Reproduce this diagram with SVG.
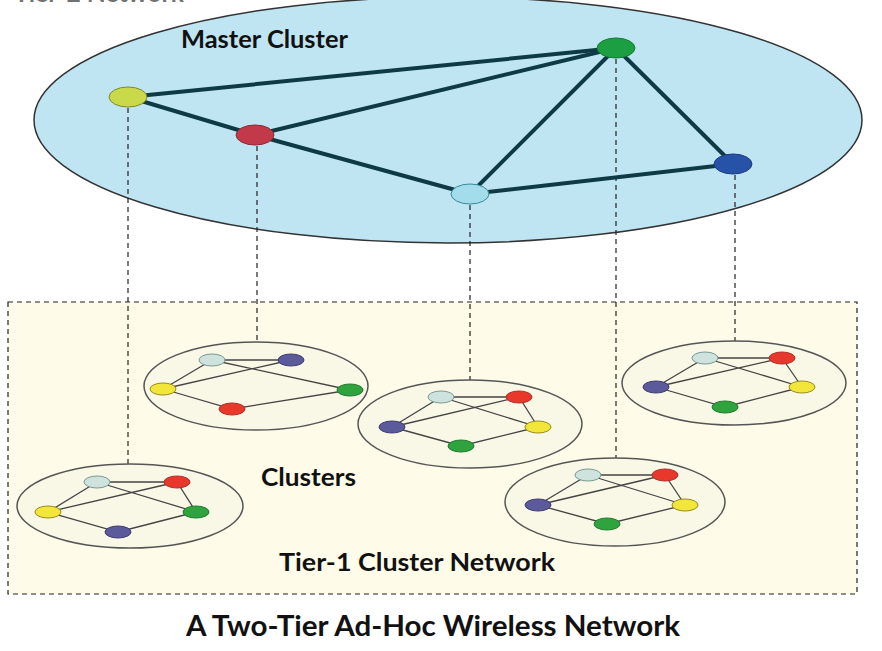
<svg xmlns="http://www.w3.org/2000/svg" width="882" height="651" viewBox="0 0 882 651">
<style>
.lbl{font-family:Lato,"Open Sans","Liberation Sans",sans-serif;font-weight:bold;fill:#111;}
.m{stroke:#0e3a44;stroke-width:4;stroke-linecap:round;fill:none;}
.d{stroke:#222;stroke-width:1.2;stroke-dasharray:5,4;fill:none;}
.cl{fill:#f9f7e6;stroke:#555;stroke-width:1.5;}
.e{stroke:#444;stroke-width:1.3;fill:none;}
.n{stroke-width:1;}
.lt{fill:#cfe3de;stroke:#7a9a94;}
.rd{fill:#e8382c;stroke:#b0302a;}
.ye{fill:#f2e63a;stroke:#9a8c20;}
.gr{fill:#2fa33d;stroke:#217a2d;}
.pu{fill:#5b5a9a;stroke:#3e3d70;}
</style>
<rect width="882" height="651" fill="#ffffff"/>
<text class="lbl" x="14" y="2" font-size="24" textLength="170" lengthAdjust="spacingAndGlyphs" fill-opacity="0.6">Tier-2 Network</text>
<g id="tier1-area">
<rect x="8" y="302" width="849" height="292" fill="#fefbe9" stroke="#222" stroke-width="1.2" stroke-dasharray="5,4"/>
</g>
<g id="master-cluster">
<ellipse cx="448" cy="120" rx="414" ry="123" fill="#bfe4f2" stroke="#333" stroke-width="1.5"/>
</g>
<g id="connectors">
<line class="d" x1="128" y1="108" x2="128" y2="465"/>
<line class="d" x1="257" y1="146" x2="257" y2="341"/>
<line class="d" x1="470" y1="205" x2="470" y2="381"/>
<line class="d" x1="616" y1="59" x2="616" y2="459"/>
<line class="d" x1="735" y1="175" x2="735" y2="342"/>
<line class="m" x1="128" y1="97" x2="616" y2="48"/>
<line class="m" x1="128" y1="97" x2="255" y2="135"/>
<line class="m" x1="255" y1="135" x2="616" y2="48"/>
<line class="m" x1="255" y1="135" x2="470" y2="194"/>
<line class="m" x1="470" y1="194" x2="616" y2="48"/>
<line class="m" x1="470" y1="194" x2="733" y2="164"/>
<line class="m" x1="616" y1="48" x2="733" y2="164"/>
</g>
<g id="m-yellow"><ellipse cx="128" cy="97" rx="19" ry="10" fill="#c9d94a" stroke="#7f8a2a"/></g>
<g id="m-red"><ellipse cx="255" cy="135" rx="19" ry="10" fill="#c23a4a" stroke="#8a2a35"/></g>
<g id="m-green"><ellipse cx="616" cy="48" rx="19" ry="10" fill="#1c9e42" stroke="#157a32"/></g>
<g id="m-cyan"><ellipse cx="470" cy="194" rx="19" ry="10" fill="#a3dcea" stroke="#3a8a9a"/></g>
<g id="m-blue"><ellipse cx="733" cy="164" rx="19" ry="10" fill="#2652a8" stroke="#1c3c7a"/></g>
<text class="lbl" x="181" y="48" font-size="24" textLength="167" lengthAdjust="spacingAndGlyphs">Master Cluster</text>

<g id="cluster-1">
<ellipse class="cl" cx="130" cy="506" rx="113" ry="42"/>
<path class="e" d="M97 482L177 482M97 482L48 512M97 482L196 512M177 482L48 512M177 482L196 512M48 512L118 532L196 512"/>
<ellipse class="n lt" cx="97" cy="482" rx="13" ry="6"/>
<ellipse class="n rd" cx="177" cy="482" rx="13" ry="6"/>
<ellipse class="n ye" cx="48" cy="512" rx="13" ry="6"/>
<ellipse class="n gr" cx="196" cy="512" rx="13" ry="6"/>
<ellipse class="n pu" cx="118" cy="532" rx="13" ry="6"/>
</g>
<g id="cluster-2">
<ellipse class="cl" cx="256" cy="386" rx="112" ry="44"/>
<path class="e" d="M212 360L291 360M212 360L163 389M212 360L350 390M291 360L163 389M163 389L232 409L350 390"/>
<ellipse class="n lt" cx="212" cy="360" rx="13" ry="6"/>
<ellipse class="n pu" cx="291" cy="360" rx="13" ry="6"/>
<ellipse class="n ye" cx="163" cy="389" rx="13" ry="6"/>
<ellipse class="n gr" cx="350" cy="390" rx="13" ry="6"/>
<ellipse class="n rd" cx="232" cy="409" rx="13" ry="6"/>
</g>
<g id="cluster-3">
<ellipse class="cl" cx="470" cy="424" rx="112" ry="44"/>
<path class="e" d="M441 397L519 397M441 397L392 427M441 397L538 427M519 397L392 427M519 397L538 427M392 427L461 446L538 427"/>
<ellipse class="n lt" cx="441" cy="397" rx="13" ry="6"/>
<ellipse class="n rd" cx="519" cy="397" rx="13" ry="6"/>
<ellipse class="n pu" cx="392" cy="427" rx="13" ry="6"/>
<ellipse class="n ye" cx="538" cy="427" rx="13" ry="6"/>
<ellipse class="n gr" cx="461" cy="446" rx="13" ry="6"/>
</g>
<g id="cluster-4">
<ellipse class="cl" cx="615" cy="502" rx="110" ry="44"/>
<path class="e" d="M588 475L665 475M588 475L538 505M588 475L685 505M665 475L538 505M665 475L685 505M538 505L607 524L685 505"/>
<ellipse class="n lt" cx="588" cy="475" rx="13" ry="6"/>
<ellipse class="n rd" cx="665" cy="475" rx="13" ry="6"/>
<ellipse class="n pu" cx="538" cy="505" rx="13" ry="6"/>
<ellipse class="n ye" cx="685" cy="505" rx="13" ry="6"/>
<ellipse class="n gr" cx="607" cy="524" rx="13" ry="6"/>
</g>
<g id="cluster-5">
<ellipse class="cl" cx="734" cy="383" rx="112" ry="42"/>
<path class="e" d="M705 358L782 358M705 358L656 387M705 358L802 387M782 358L656 387M782 358L802 387M656 387L725 407L802 387"/>
<ellipse class="n lt" cx="705" cy="358" rx="13" ry="6"/>
<ellipse class="n rd" cx="782" cy="358" rx="13" ry="6"/>
<ellipse class="n pu" cx="656" cy="387" rx="13" ry="6"/>
<ellipse class="n ye" cx="802" cy="387" rx="13" ry="6"/>
<ellipse class="n gr" cx="725" cy="407" rx="13" ry="6"/>
</g>
<text class="lbl" x="261" y="486" font-size="24" textLength="95" lengthAdjust="spacingAndGlyphs">Clusters</text>
<text class="lbl" x="279" y="571" font-size="24" textLength="276" lengthAdjust="spacingAndGlyphs">Tier-1 Cluster Network</text>
<text class="lbl" x="186" y="636" font-size="29" textLength="494" lengthAdjust="spacingAndGlyphs">A Two-Tier Ad-Hoc Wireless Network</text>
</svg>
